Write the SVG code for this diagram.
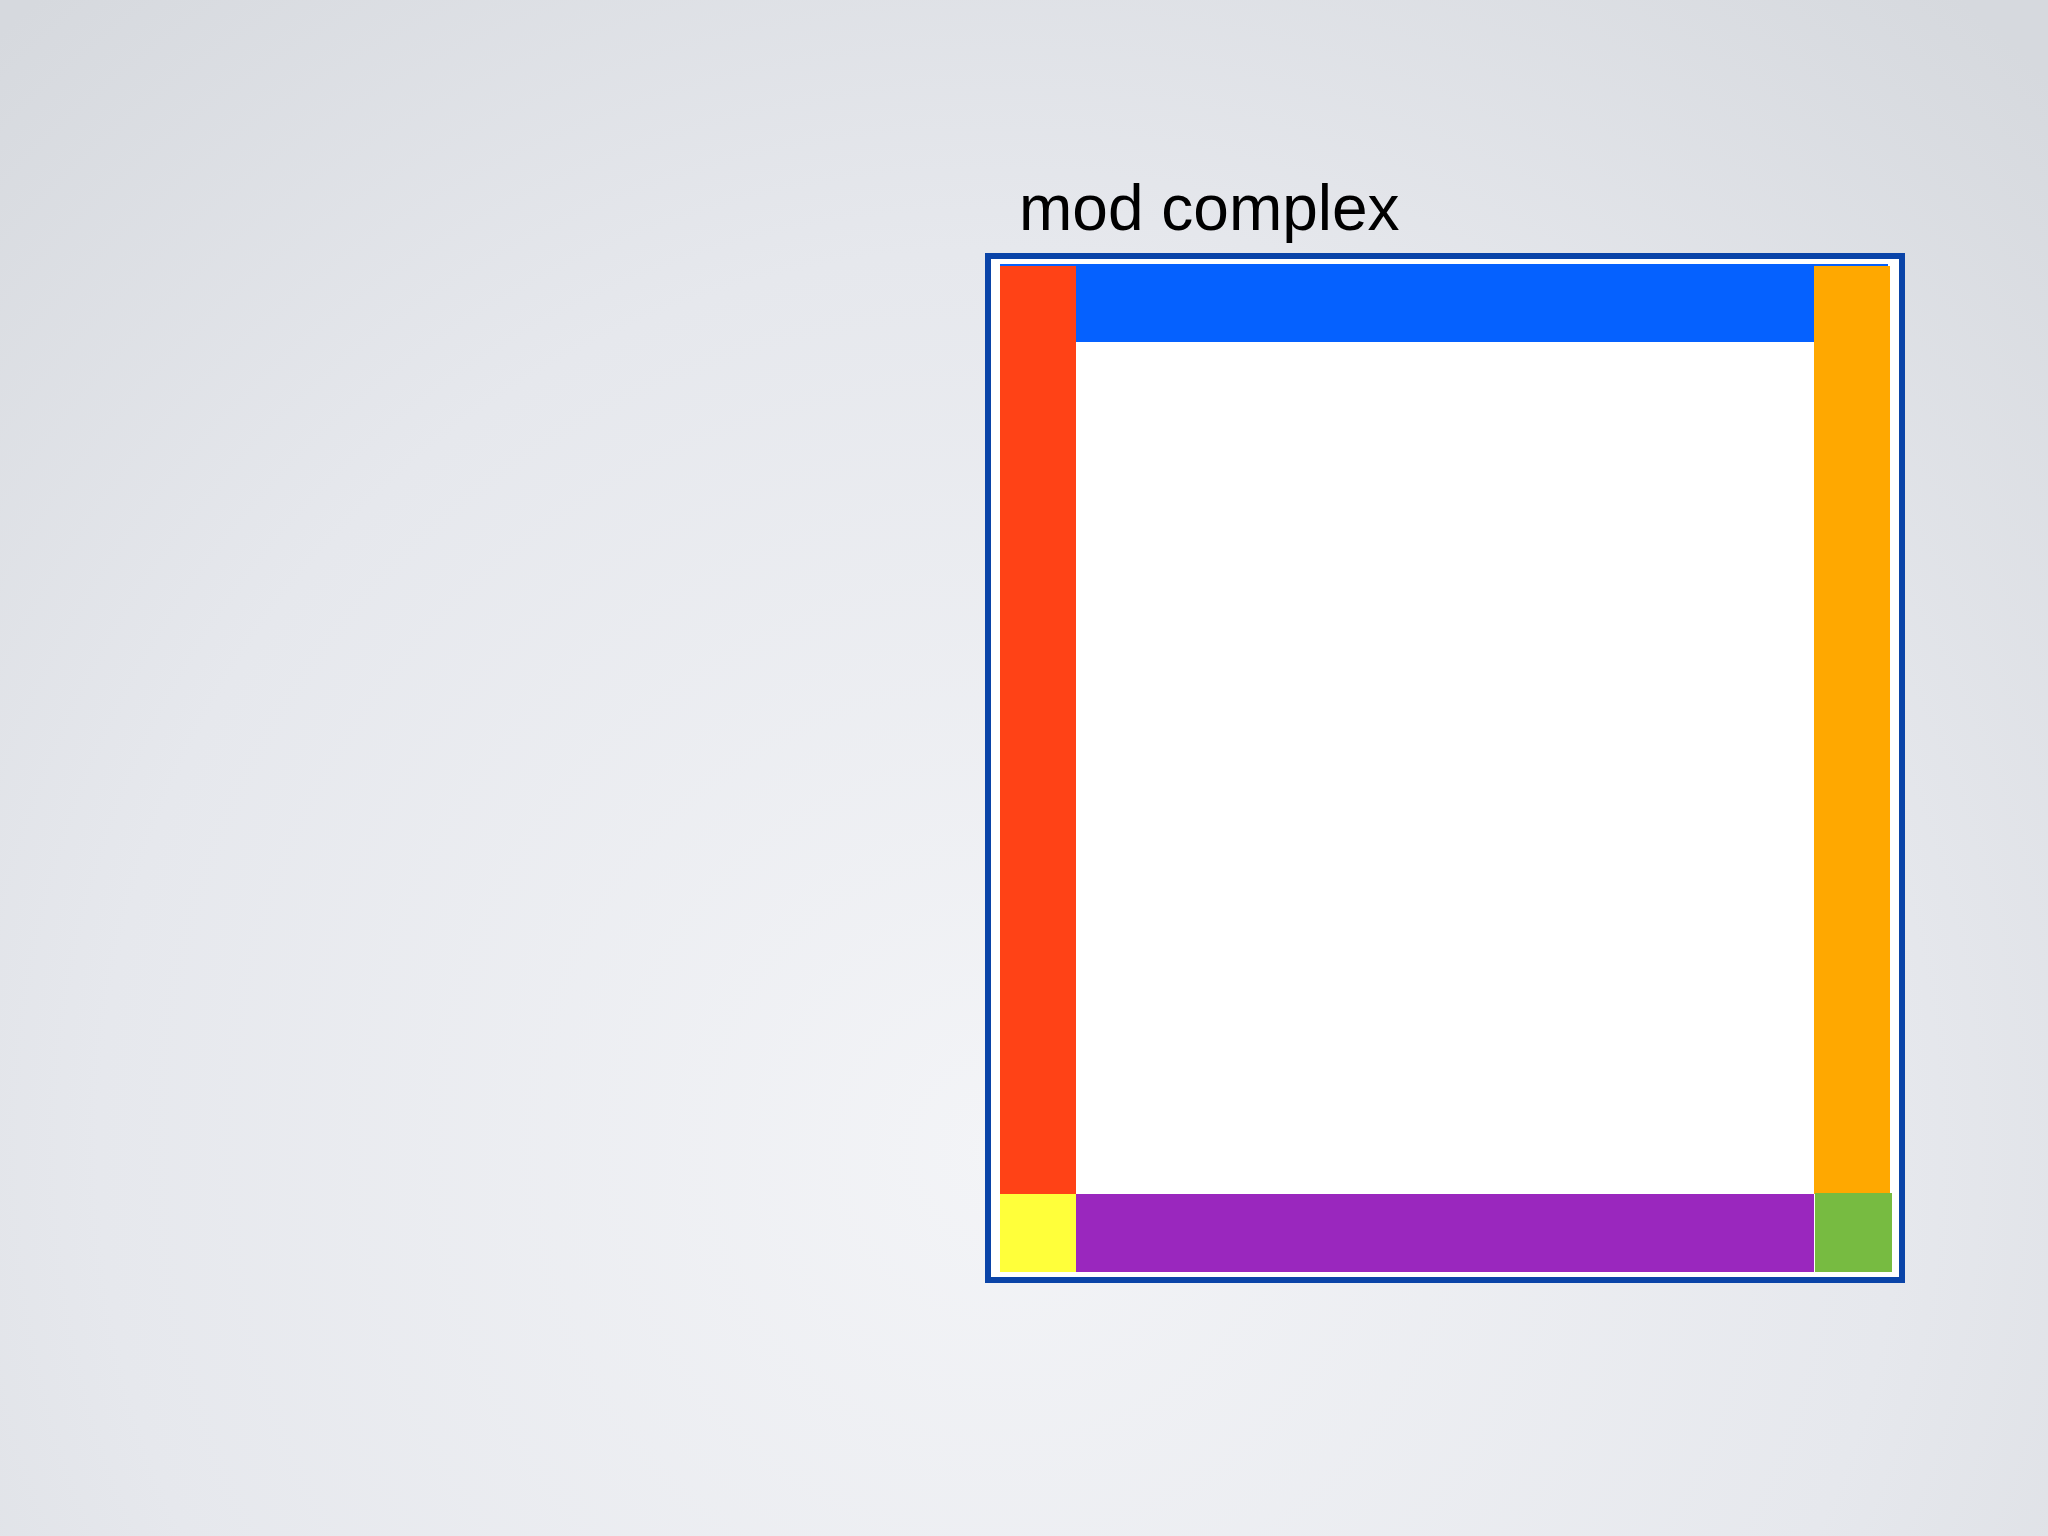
<svg xmlns="http://www.w3.org/2000/svg" width="2048" height="1536" viewBox="0 0 2048 1536">
  <defs>
    <radialGradient id="bg" cx="1000" cy="1150" r="1500" gradientUnits="userSpaceOnUse">
      <stop offset="0" stop-color="#f3f4f7"/>
      <stop offset="0.6" stop-color="#e6e8ed"/>
      <stop offset="1" stop-color="#d6d9de"/>
    </radialGradient>
    <style>
      .label { font-family: "Liberation Sans", Arial, sans-serif; font-size: 64px; fill: #000000; }
      .frame { fill: #ffffff; stroke: #0a44a8; stroke-width: 6; }
    </style>
  </defs>
  <rect x="0" y="0" width="2048" height="1536" fill="url(#bg)"/>
  <g id="title">
    <text class="label" x="1019" y="230">mod complex</text>
  </g>
  <g id="frame">
    <rect class="frame" x="988" y="256" width="914" height="1024"/>
  </g>
  <g id="top-bar">
    <rect x="1000" y="264" width="888" height="78" fill="#0561ff"/>
  </g>
  <g id="left-bar">
    <rect x="1000" y="266" width="76" height="928" fill="#ff4216"/>
  </g>
  <g id="right-bar">
    <rect x="1814" y="266" width="76" height="928" fill="#ffa800"/>
  </g>
  <g id="bottom-bar">
    <rect x="1076" y="1194" width="738" height="78" fill="#9a27be"/>
  </g>
  <g id="corner-yellow">
    <rect x="1000" y="1194" width="76" height="78" fill="#ffff3a"/>
  </g>
  <g id="corner-green">
    <rect x="1815" y="1193" width="77" height="79" fill="#77bb41"/>
  </g>
  <g id="connectors"/>
</svg>
